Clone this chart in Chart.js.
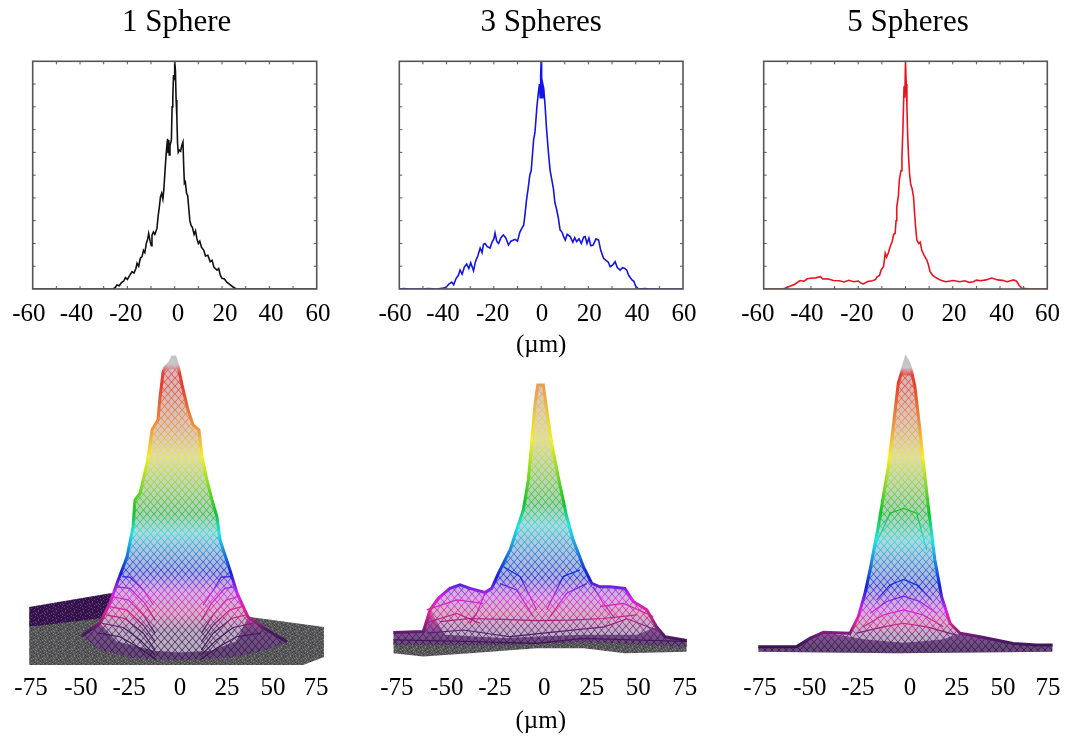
<!DOCTYPE html>
<html>
<head>
    <title>Sphere profiles</title>
    <script src="https://cdn.jsdelivr.net/npm/chart.js"></script>
    <style>
        body { margin: 0; background: white; width: 1070px; height: 736px; overflow: hidden; position: relative; }
        canvas { position: absolute; }
    </style>
</head>
<body>
    <canvas id="trace1"></canvas>
    <canvas id="trace2"></canvas>
    <canvas id="trace3"></canvas>
    <canvas id="surface1"></canvas>
    <canvas id="surface2"></canvas>
    <canvas id="surface3"></canvas>

    <script>
        // top row: measured profiles, [um, intensity %]
        const trace1 = [[-60,0],[-26,0],[-25,.8],[-24.4,1.8],[-23.4,1.4],[-22.5,2.8],[-21.6,3.4],[-20.8,5],[-20,4.2],[-19,6],[-18,7.6],[-17.2,7],[-16.4,9],[-15.9,11.3],[-15.2,10],[-14.5,13.6],[-13.8,14.2],[-13.2,17],[-12.6,16],[-12,20],[-11.4,22],[-11,24.4],[-10.4,21],[-9.9,19],[-9.6,23.6],[-9,25],[-8.4,24],[-7.5,26.6],[-7,32],[-6.5,36],[-6,40.5],[-5.5,42],[-5,39.5],[-4.6,43.5],[-4.2,50],[-3.7,58],[-3.4,62],[-3,66],[-2.8,60],[-2.5,65.4],[-2.3,58.9],[-2,63],[-1.4,65.4],[-1.1,80],[-.8,84],[-.5,94],[-.2,92],[0,100],[.3,96],[.6,83],[.9,76],[1.2,64],[1.5,60],[2,61],[2.5,60.5],[3,63],[3.5,64.5],[3.8,54],[4.1,46.4],[4.5,47],[5,42],[5.5,41],[5.9,36],[6.4,30],[6.9,28],[7.5,27],[8.2,24],[8.8,25.5],[9.4,22],[10,20],[10.6,21],[11.3,18.4],[12.3,17],[13,14.5],[14,14.8],[15,12],[15.8,12.6],[16.6,9.5],[17.9,8.3],[18.6,9],[19.3,6],[20,4.7],[21,4.4],[22,3],[23.5,1.8],[24.5,1],[26,0],[60,0]];
        const trace2 = [[-60,0],[-58,.2],[-56,0],[-50,0],[-48,.2],[-44,0],[-42,.3],[-41,.4],[-40,1],[-39,2.2],[-37.8,3],[-37,1.8],[-36,4.6],[-35,6],[-34.3,8.3],[-33.4,6.5],[-32.5,9.6],[-31.5,11],[-30.6,9],[-29.8,11.5],[-28.6,8],[-27.8,12],[-26.8,14.5],[-25.8,18],[-25,16],[-24.4,19.6],[-23.7,20],[-22.8,18.6],[-21.6,18],[-20.8,20.5],[-20,22],[-19.5,24.6],[-18.8,21],[-18,20],[-17,22.5],[-16,23.7],[-15,22.5],[-13.8,19.3],[-12.8,21],[-11,21.8],[-10,21],[-9,25],[-8.2,26.6],[-7.4,28],[-6.8,33],[-6.2,39],[-5.4,45],[-4.8,50],[-4.2,52],[-3.2,65.4],[-2.6,69],[-1.8,80],[-1.2,86],[-.7,90],[-.4,84],[-.2,94],[0,100],[.2,88],[.5,84],[.7,90],[1.1,88],[1.7,80],[2.3,70],[3.1,59.6],[3.8,52],[4.5,48],[5.2,44],[5.8,38],[6.6,34.7],[7.3,31],[8,26],[8.8,25],[9.5,23],[10.2,21.5],[11,24],[12.3,23],[13.4,20.5],[14.2,22.5],[15,20.8],[16,22],[17,20],[18,22.8],[18.6,23],[19.4,20],[20.2,22.4],[21,19],[22,19.3],[23.2,22],[24.3,21.5],[25.2,17],[26.4,13.5],[27.4,12.6],[28.4,11.8],[29.2,9.8],[30.2,10.5],[31.3,12],[32.2,9.4],[33.4,8.3],[34.4,9.4],[35.4,9],[36.2,8.3],[37,6],[38.4,4],[39.2,3.4],[40,1.2],[41.2,0],[44,.2],[46,0],[60,0]];
        const trace3 = [[-60,0],[-52,0],[-51,.3],[-49,1.2],[-47,2],[-44.6,3.7],[-43,3.4],[-41.5,4.5],[-40.3,4.7],[-38,4.9],[-36,5.4],[-35,4.4],[-33,4.5],[-30.5,3.7],[-28,3.6],[-26,3.1],[-24,3.8],[-22,3.2],[-20,3.5],[-18.6,2.5],[-17.8,2.2],[-16,3.3],[-14,3.6],[-12.6,4.2],[-12,5.4],[-11,6],[-10.2,8.6],[-9.3,9.8],[-8.9,13],[-8.6,15.7],[-8,14],[-7.2,16],[-6.5,18.6],[-5.6,21],[-5,24],[-4.4,24.4],[-4,30],[-3.7,36],[-3,41],[-2.6,48],[-1.9,52],[-1.5,58],[-1.1,70],[-.8,82],[-.6,89],[-.3,84],[0,100],[.3,90],[.6,80],[.9,68],[1.3,58],[1.7,50.8],[2.2,46],[2.8,44],[3.4,40.5],[3.8,34],[4.3,27],[4.8,21.5],[5.6,20],[6.2,20.6],[6.9,17],[7.8,15],[9,12.7],[9.6,11],[10.4,7.6],[11.5,6],[13.3,4.7],[15,3.8],[17,3.2],[20.3,3.7],[23,3.2],[25,3.6],[27,2.9],[28.8,3.2],[30,3.9],[32,3.6],[34,4],[36.5,4.8],[39,4],[41,3.8],[43,3.2],[45.7,4],[47,3.4],[48,1.8],[49.2,.3],[52,.1],[56,0],[60,0]];

        const topTickLabels = ['-60', '-40', '-20', '0', '20', '40', '60'];
        const bottomTickLabels = ['-75', '-50', '-25', '0', '25', '50', '75'];
        const frameXTicks = [-50, -40, -30, -20, -10, 0, 10, 20, 30, 40, 50];
        const frameYTicks = [10, 20, 30, 40, 50, 60, 70, 80, 90];

        // labels are hand placed in the figure, not quite on the ticks
        const trace1LabelAt = [-61.6, -41.5, -20.6, 1.4, 21.3, 40.7, 60.5];
        const trace2LabelAt = [-61.8, -41.5, -20.5, 0.4, 20.3, 40.6, 60.4];
        const trace3LabelAt = [-62.5, -41.7, -20.6, 0.9, 20.5, 40.7, 60.1];
        const surface1LabelAt = [-75, -48.7, -23.4, 3.4, 28.2, 52.4, 75];
        const surface2LabelAt = [-75, -49, -23.9, 1.8, 26.5, 50.8, 75];
        const surface3LabelAt = [-75, -49, -24, 3.1, 27.5, 51.6, 75];

        // bottom row: outline of each surface, [um, height]
        const surface1Top = [[-48.2,10.6],[-38.7,14.7],[-33.4,20.9],[-29.7,27.2],[-24.5,35.3],[-21.3,44.7],[-20.3,53.1],[-17.6,55.3],[-13.9,64.7],[-11.3,75],[-8.2,78.1],[-7.1,85.3],[-5.5,93.1],[-4.5,94.6],[-2,96],[-.5,97.8],[.8,97.8],[2,95.6],[2.4,95],[4.5,89.1],[7.6,81.3],[10.3,76.6],[13.4,75],[15,66.6],[17.6,59.4],[20.3,53.1],[22.9,47.8],[24.5,40.6],[29.7,31.3],[33.4,24.1],[39.2,16.6],[49.2,12.5],[59.7,8.8]];
        const surface1Bottom = [[-48.2,10.6],[-38.7,6.3],[-21.3,3.8],[3.4,3.1],[31.4,4],[49.2,6.3],[59.7,8.8]];
        const surface1MeshTop = [[-38.7,14.7],[-33.4,20.9],[-29.7,27.2],[-24.5,35.3],[-21.3,44.7],[-20.3,53.1],[-17.6,55.3],[-13.9,64.7],[-11.3,75],[-8.2,78.1],[-7.1,85.3],[-5.5,93.1],[-2,94],[2.4,94],[4.5,89.1],[7.6,81.3],[10.3,76.6],[13.4,75],[15,66.6],[17.6,59.4],[20.3,53.1],[22.9,47.8],[24.5,40.6],[29.7,31.3],[33.4,24.1],[39.2,16.6]];
        const surface1MeshBottom = [[-38.7,14.7],[-30,9],[-10,6],[3,5.5],[20,6],[33,9],[39.2,16.6]];
        const surface1BackTop = [[-76,19.7],[-33.4,24],[-22.9,24]];
        const surface1BackBottom = [[-76,13.4],[-33.4,15.6],[-22.9,15.6]];
        const surface1FloorTop = [[-76,13.4],[-38.7,16.2],[40.3,16.6],[79.2,13.4]];
        const surface1FloorBottom = [[-76,1.6],[68.2,1.6],[79.2,4.1]];
        const surface1Contours = [
            [[-27,29.2],[-22.9,29],[-15.9,25],[-10.6,20.3]],
            [[-30,26],[-22.9,25.5],[-15,20.8],[-9.7,15.6]],
            [[-32,22.9],[-23.8,21.9],[-15.9,17.2],[-9.7,11.5]],
            [[-33.8,19.8],[-24.6,18.8],[-15.9,14],[-9.7,8.9]],
            [[-35.6,17.2],[-25.5,16.1],[-15.9,11.5],[-9.7,6.3]],
            [[-37.8,14.6],[-26.4,13.3],[-17.6,9.4],[-9.7,4.7]],
            [[-39.6,11.5],[-28.2,10.4],[-17.6,6.8],[-8.9,3.1]],
            [[15.6,20.3],[21,25],[25,29],[30.5,29.2]],
            [[14.7,15.6],[20,20.8],[27,25.5],[32,26]],
            [[14.7,11.5],[20.9,17.2],[28,21.9],[33.8,22.9]],
            [[14.7,8.9],[20.9,14],[29.6,18.8],[36,19.8]],
            [[14.7,6.3],[20.9,11.5],[30.5,16.1],[38,17.2]],
            [[14.7,4.7],[22.6,9.4],[31.4,13.3],[42,14.6]],
            [[13.9,3.1],[22.6,6.8],[33.2,10.4],[46,11.5]]
        ];

        const surface2Top = [[-76.8,11.7],[-61.2,12],[-57.7,18.8],[-53.4,22.4],[-47.3,25.5],[-42.1,26.6],[-36.9,25.5],[-29.1,24.2],[-25.6,25.5],[-22.1,30.2],[-16,37.5],[-12.6,43.8],[-9.1,50],[-6.5,59.4],[-4.8,70.8],[-3,83.3],[-1.6,89.1],[1.3,89.1],[3.1,81.3],[5.7,70.8],[9.1,60.4],[13.5,47.9],[16.9,40.6],[22.2,32.3],[26.5,27.1],[30.8,26],[36,26],[43.8,25.5],[48.2,21.4],[55.2,18.8],[60.3,13.5],[64.7,10.4],[76,9.2]];
        const surface2Bottom = [[-76.8,7.8],[-19,7.8],[22.2,8.9],[76,7.3]];
        const surface2MeshTop = [[-57.7,18.8],[-53.4,22.4],[-47.3,25.5],[-42.1,26.6],[-36.9,25.5],[-29.1,24.2],[-25.6,25.5],[-22.1,30.2],[-16,37.5],[-12.6,43.8],[-9.1,50],[-6.5,59.4],[-4.8,70.8],[-3,83.3],[-1.6,89.1],[1.3,89.1],[3.1,81.3],[5.7,70.8],[9.1,60.4],[13.5,47.9],[16.9,40.6],[22.2,32.3],[26.5,27.1],[30.8,26],[36,26],[43.8,25.5],[48.2,21.4],[55.2,18.8],[60.3,13.5]];
        const surface2MeshBottom = [[-57.7,18.8],[-50,11],[-20,10],[22,11],[50,11],[60.3,13.5]];
        const surface2FloorTop = [[-76.8,9.5],[-19,9.5],[22.2,10.5],[76,9.2]];
        const surface2FloorBottom = [[-76.8,5.2],[-61.2,4.2],[-36.9,5.2],[-2.2,6.8],[22.2,6.8],[43.8,5.2],[76,5.7]];
        const surface2Contours = [
            [[-76.8,9.4],[-36.9,8.9],[-2.2,8.3],[22.2,9.9],[76,8.9]],
            [[-52.5,15.1],[-36.9,16.1],[-19.5,15.8],[-2.2,15.4],[15.2,15.6],[32.6,16.1],[50,17.2]],
            [[-36.9,14.6],[-33.4,17.7],[-29.1,24]],
            [[27.3,26],[32.6,20.8],[38.6,16.1]],
            [[-59.4,18.8],[-43.8,21.9],[-30,20.8]],
            [[-60.3,14.6],[-43.8,17.7],[-31.7,14.6]],
            [[-59.4,11.5],[-40.3,12.5],[-16,10.4],[1.3,11.5]],
            [[30.8,19.8],[43,20.8],[58.6,16.7]],
            [[1.3,11.5],[33,13.5],[45,16],[60,12.5]],
            [[-19.5,32.3],[-10.8,29.2],[-2.2,18.8]],
            [[3.1,18.8],[11.7,29.2],[20.4,31.3]],
            [[-21.3,27],[-12.6,25],[-3.9,16.7]],
            [[4.8,16.7],[13.5,24],[23.9,27]]
        ];

        const surface3Top = [[-75.9,7.3],[-55.9,7.3],[-49,9.9],[-42,11.8],[-28.1,11.5],[-23.8,16.7],[-20.3,24],[-17.7,31.3],[-13.4,44.8],[-10.8,54.2],[-8.2,63.5],[-5.6,76],[-3,89.6],[-1.2,93.2],[1,97.5],[2.5,96],[4,93.2],[5.7,88.5],[8.3,75],[10.9,60.4],[13.5,46.9],[16.1,34.4],[19.6,22.9],[24,14.6],[29.2,11.5],[39.6,10.4],[56.9,8.3],[69.1,7.8],[77.4,7.8]];
        const surface3Bottom = [[-75.9,5.7],[-3.8,5.2],[77.4,5.7]];
        const surface3MeshTop = [[-42,11.8],[-28.1,11.5],[-23.8,16.7],[-20.3,24],[-17.7,31.3],[-13.4,44.8],[-10.8,54.2],[-8.2,63.5],[-5.6,76],[-3,89.6],[-1.2,92],[4,92],[5.7,88.5],[8.3,75],[10.9,60.4],[13.5,46.9],[16.1,34.4],[19.6,22.9],[24,14.6],[29.2,11.5]];
        const surface3MeshBottom = [[-42,11.8],[-20,9.5],[0,8.5],[20,9.5],[29.2,11.5]];
        const surface3Contours = [
            [[-16,37.5],[-7.3,49],[-.3,50.5],[6.6,49],[11.8,37.5]],
            [[-14.2,21.9],[-7.3,26.6],[-.3,28.3],[6.6,26.6],[14.4,21.9]],
            [[-17.7,17.7],[-9,21.4],[-.3,23.1],[8.3,21.4],[17,17.7]],
            [[-21.2,13.5],[-10.8,17.2],[-.3,18.8],[10.1,17.2],[20.5,13.5]],
            [[-24.7,11.5],[-10.8,13.5],[-.3,14.6],[11.8,13.5],[27.4,10.9]]
        ];

        // colour bands of the height map, [height, colour]
        const surface1Bands = [[100,'#c4c4c8'],[95.5,'#c4c4c8'],[93,'#e8403a'],[89,'#e83c2c'],[75,'#f09a3a'],[66.6,'#f4f020'],[49,'#10c428'],[42.8,'#20e4e4'],[30.3,'#1020e0'],[24,'#d420ec'],[17.8,'#d82490'],[12.5,'#4a1a60'],[6,'#3a1450'],[0,'#3a1450']];
        const surface2Bands = [[100,'#e09a60'],[87.5,'#e8a050'],[71.9,'#f4f020'],[52,'#10c428'],[45,'#20e4e4'],[29,'#1020e0'],[22.8,'#d420ec'],[17.8,'#d82490'],[11.6,'#5a1c70'],[8.4,'#3a1450'],[0,'#3a1450']];
        const surface3Bands = [[100,'#c4c4c8'],[94.5,'#c4c4c8'],[92.5,'#e8403a'],[89.7,'#e83c2c'],[76,'#f09a3a'],[66.6,'#f4f020'],[49,'#10c428'],[40.6,'#20e4e4'],[26,'#1020e0'],[18.8,'#d420ec'],[14.7,'#d82490'],[10.3,'#5a1c70'],[7.2,'#3a1450'],[0,'#3a1450']];

        const FONT = { family: '"Liberation Serif", serif', size: 25 };

        function toPoints(pairs) {
            return pairs.map(p => ({ x: p[0], y: p[1] }));
        }

        function plain(pairs, extra) {
            return Object.assign({ data: toPoints(pairs), borderWidth: 0, pointRadius: 0, fill: false, tension: 0 }, extra);
        }

        // a small tile of light diamonds, the holes of the wire mesh
        function meshPattern(alpha) {
            const tile = document.createElement('canvas');
            tile.width = 7;
            tile.height = 8;
            const c = tile.getContext('2d');
            c.fillStyle = `rgba(214,212,218,${alpha})`;
            [[3.5, 4], [0, 0], [7, 0], [0, 8], [7, 8]].forEach(d => {
                c.beginPath();
                c.moveTo(d[0], d[1] - 3.6);
                c.lineTo(d[0] + 3, d[1]);
                c.lineTo(d[0], d[1] + 3.6);
                c.lineTo(d[0] - 3, d[1]);
                c.fill();
            });
            return c.createPattern(tile, 'repeat');
        }

        // speckled noise floor
        const speckleRows = ['..#...o..', '....o...#', '#.....#..', '..o.#....', '......o.#', '.#..o....', '....#..o.', 'o......#.', '..#.o....'];
        function specklePattern(base, light, dark) {
            const tile = document.createElement('canvas');
            tile.width = 9;
            tile.height = 9;
            const c = tile.getContext('2d');
            speckleRows.forEach((row, j) => row.split('').forEach((s, i) => {
                c.fillStyle = s === '#' ? light : s === 'o' ? dark : base;
                c.fillRect(i, j, 1, 1);
            }));
            return c.createPattern(tile, 'repeat');
        }

        function bandGradient(bands) {
            return context => {
                const chart = context.chart;
                if (!chart.chartArea) return '#888';
                const y = chart.scales.y;
                const g = chart.ctx.createLinearGradient(0, y.getPixelForValue(100), 0, y.getPixelForValue(0));
                bands.forEach(b => g.addColorStop((100 - b[0]) / 100, b[1]));
                return g;
            };
        }

        // the marks in the figure are soft, the text is not
        function softenPlugin(radius) {
            return {
                id: 'soften',
                beforeDatasetsDraw(chart) { chart.ctx.filter = `blur(${radius}px)`; },
                afterDatasetsDraw(chart) { chart.ctx.filter = 'none'; }
            };
        }

        const framePlugin = {
            id: 'frame',
            afterDatasetsDraw(chart) {
                const a = chart.chartArea, ctx = chart.ctx, x = chart.scales.x, y = chart.scales.y;
                ctx.save();
                ctx.strokeStyle = '#555';
                ctx.lineWidth = 1;
                frameXTicks.forEach(v => {
                    const px = x.getPixelForValue(v);
                    ctx.beginPath();
                    ctx.moveTo(px, a.top); ctx.lineTo(px, a.top + 3);
                    ctx.moveTo(px, a.bottom); ctx.lineTo(px, a.bottom - 3);
                    ctx.stroke();
                });
                frameYTicks.forEach(v => {
                    const py = y.getPixelForValue(v);
                    ctx.beginPath();
                    ctx.moveTo(a.left, py); ctx.lineTo(a.left + 3, py);
                    ctx.moveTo(a.right, py); ctx.lineTo(a.right - 3, py);
                    ctx.stroke();
                });
                ctx.lineWidth = 1.6;
                ctx.strokeRect(a.left, a.top, a.right - a.left, a.bottom - a.top);
                ctx.restore();
            }
        };

        function xAxis(min, max, labelAt, labels, labelPad, height, unit) {
            return {
                type: 'linear',
                min: min,
                max: max,
                grid: { display: false, drawTicks: false },
                border: { display: false },
                afterBuildTicks: axis => { axis.ticks = labelAt.map(v => ({ value: v })); },
                afterFit: axis => { axis.height = height; },
                ticks: {
                    autoSkip: false,
                    maxRotation: 0,
                    padding: labelPad,
                    color: '#000',
                    font: FONT,
                    callback: (v, i) => labels[i]
                },
                title: { display: !!unit, text: unit, color: '#000', font: FONT, padding: 0 }
            };
        }

        function placeCanvas(id, left, top, width, height) {
            const canvas = document.getElementById(id);
            canvas.width = width;
            canvas.height = height;
            canvas.style.left = left + 'px';
            canvas.style.top = top + 'px';
            canvas.style.width = width + 'px';
            canvas.style.height = height + 'px';
            return canvas;
        }

        // titleRoom: blank y axis on the right, it moves the centred title off the plot centre
        function drawTrace(id, left, width, padLeft, padRight, titleRoom, height, trace, color, labelAt, title, unit) {
            new Chart(placeCanvas(id, left, 0, width, height), {
                type: 'line',
                data: { datasets: [plain(trace, { borderColor: color, borderWidth: 1.6 })] },
                plugins: [softenPlugin(0.35), framePlugin],
                options: {
                    responsive: false,
                    animation: false,
                    layout: { padding: { left: padLeft, right: padRight, top: 0, bottom: 0 } },
                    plugins: {
                        legend: { display: false },
                        tooltip: { enabled: false },
                        title: {
                            display: true,
                            text: title,
                            color: '#000',
                            font: { family: FONT.family, size: 31, weight: 'normal' },
                            padding: { top: 3.9, bottom: 20.2 }
                        }
                    },
                    scales: {
                        x: xAxis(-60, 60, labelAt, topTickLabels, 10, height - 289, unit),
                        y: {
                            display: titleRoom > 0,
                            position: 'right',
                            min: 0,
                            max: 100,
                            grid: { display: false },
                            border: { display: false },
                            ticks: { display: false },
                            afterFit: axis => { axis.width = titleRoom; }
                        }
                    }
                }
            });
        }

        function drawSurface(id, left, width, padLeft, padRight, labelAt, surfaceTop, surfaceBottom, meshTop, meshBottom, bands, contours, under, unit) {
            const rainbow = bandGradient(bands);
            const sets = [];
            contours.forEach(c => sets.push(plain(c, { borderColor: rainbow, borderWidth: 1.2 })));
            sets.push(plain(surfaceTop, { borderColor: rainbow, borderWidth: 3 }));
            sets.push(plain(meshTop, { fill: '+1', backgroundColor: meshPattern(0.72) }));
            sets.push(plain(meshBottom));
            sets.push(plain(surfaceTop, { fill: '+1', backgroundColor: meshPattern(0.3) }));
            sets.push(plain(surfaceBottom));
            sets.push(plain(surfaceTop, { fill: '+1', backgroundColor: rainbow }));
            sets.push(plain(surfaceBottom));
            under.forEach(s => sets.push(s));
            new Chart(placeCanvas(id, left, 350, width, 386), {
                type: 'line',
                data: { datasets: sets },
                plugins: [softenPlugin(0.55)],
                options: {
                    responsive: false,
                    animation: false,
                    layout: { padding: { left: padLeft, right: padRight, top: 0, bottom: 0 } },
                    plugins: { legend: { display: false }, tooltip: { enabled: false } },
                    scales: {
                        x: xAxis(-80, 80, labelAt, bottomTickLabels, 3, 66, unit),
                        y: { display: false, min: 0, max: 100 }
                    }
                }
            });
        }

        drawTrace('trace1', 0, 350, 32.7, 29.3, 4, 345, trace1, '#111', trace1LabelAt, '1 Sphere', '');
        drawTrace('trace2', 367, 340, 32.3, 24, 0, 360, trace2, '#1414e6', trace2LabelAt, '3 Spheres', '(µm)');
        drawTrace('trace3', 720, 376, 43.7, 43.7, 5, 345, trace3, '#ea1420', trace3LabelAt, '5 Spheres', '');

        const grayFloor = specklePattern('#58585a', '#7c7c7e', '#3c3c3e');
        const darkBack = specklePattern('#3a1450', '#5c4470', '#2a0c3c');

        drawSurface('surface1', 0, 345, 21.5, 19.5, surface1LabelAt, surface1Top, surface1Bottom, surface1MeshTop, surface1MeshBottom, surface1Bands, surface1Contours, [
            plain(surface1FloorTop, { fill: '+1', backgroundColor: grayFloor }),
            plain(surface1FloorBottom),
            plain(surface1BackTop, { fill: '+1', backgroundColor: darkBack }),
            plain(surface1BackBottom)
        ], '');
        drawSurface('surface2', 360, 350, 27.2, 15.6, surface2LabelAt, surface2Top, surface2Bottom, surface2MeshTop, surface2MeshBottom, surface2Bands, surface2Contours, [
            plain(surface2FloorTop, { fill: '+1', backgroundColor: grayFloor }),
            plain(surface2FloorBottom)
        ], '(µm)');
        drawSurface('surface3', 730, 340, 20.4, 12.4, surface3LabelAt, surface3Top, surface3Bottom, surface3MeshTop, surface3MeshBottom, surface3Bands, surface3Contours, [], '');
    </script>
</body>
</html>
